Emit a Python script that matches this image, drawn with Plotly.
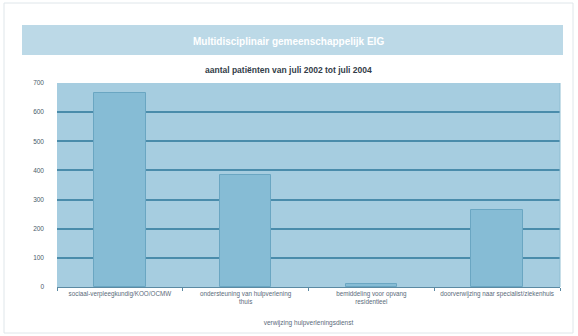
import plotly.graph_objects as go

# Chart data
categories = [
    "sociaal-verpleegkundig/KOO/OCMW",
    "ondersteuning van hulpverlening<br>thuis",
    "bemiddeling voor opvang<br>residentieel",
    "doorverwijzing naar specialist/ziekenhuis",
]
patients = [665, 385, 10, 265]
y_ticks = [0, 100, 200, 300, 400, 500, 600, 700]

header_text = "Multidisciplinair gemeenschappelijk EIG"
subtitle_text = "aantal patiënten van juli 2002 tot juli 2004"
x_title = "verwijzing hulpverleningsdienst"

bar_color = "#86bcd5"
bar_line = "#6aa6c2"
plot_bg = "#a6cde0"
grid_color = "#4a8cab"
header_bg = "#bcd9e7"

fig = go.Figure()
fig.add_trace(go.Bar(
    x=categories,
    y=patients,
    width=0.41,
    marker=dict(color=bar_color, line=dict(color=bar_line, width=1)),
    hoverinfo="x+y",
))

W, H = 578, 336
ml, mr, mt, mb = 57, 18, 83, 49
pw, ph = W - ml - mr, H - mt - mb


def px_y(y):
    """Pixel row (from top) to paper y."""
    return (H - mb - y) / ph


def px_x(x):
    """Pixel column to paper x."""
    return (x - ml) / pw


fig.update_layout(
    width=W, height=H,
    margin=dict(l=ml, r=mr, t=mt, b=mb),
    paper_bgcolor="white",
    plot_bgcolor=plot_bg,
    showlegend=False,
    font=dict(family="Liberation Sans, Arial, sans-serif", size=6, color="#5a6a7a"),
    bargap=0,
    xaxis=dict(
        showgrid=False,
        showline=True, linecolor="#5b8aa3", linewidth=1,
        tickson="boundaries", ticks="outside", ticklen=3, tickcolor="#5b8aa3",
        tickfont=dict(size=6.3, color="#5a6a7a"),
        title=dict(text=x_title, font=dict(size=6.5, color="#5a6a7a"), standoff=16),
    ),
    yaxis=dict(
        range=[0, 700],
        tickvals=y_ticks,
        showgrid=True, gridcolor=grid_color, gridwidth=2,
        zeroline=False, showline=False,
        tickfont=dict(size=6.5, color="#4a5a6a"),
        ticks="", ticklen=0, ticklabelstandoff=12,
    ),
    shapes=[
        # outer frame
        dict(type="rect", xref="paper", yref="paper",
             x0=px_x(4), x1=px_x(573), y0=px_y(333), y1=px_y(3),
             line=dict(color="#dfe6ea", width=1), fillcolor="rgba(0,0,0,0)", layer="below"),
        # header band
        dict(type="rect", xref="paper", yref="paper",
             x0=px_x(22), x1=px_x(563), y0=px_y(55), y1=px_y(25),
             line=dict(width=0), fillcolor=header_bg, layer="below"),
        # plot frame on right edge
        dict(type="line", xref="paper", yref="paper", x0=1, x1=1, y0=0, y1=1,
             line=dict(color="#8fbdd2", width=1)),
    ],
    annotations=[
        dict(text="<b>" + header_text + "</b>", xref="paper", yref="paper",
             x=px_x(288), y=px_y(41), yanchor="middle", showarrow=False,
             font=dict(size=10, color="white")),
        dict(text="<b>" + subtitle_text + "</b>", xref="paper", yref="paper",
             x=px_x(288), y=px_y(70), yanchor="middle", showarrow=False,
             font=dict(size=8.5, color="#333d48")),
    ],
)

fig.write_html("out.html")
